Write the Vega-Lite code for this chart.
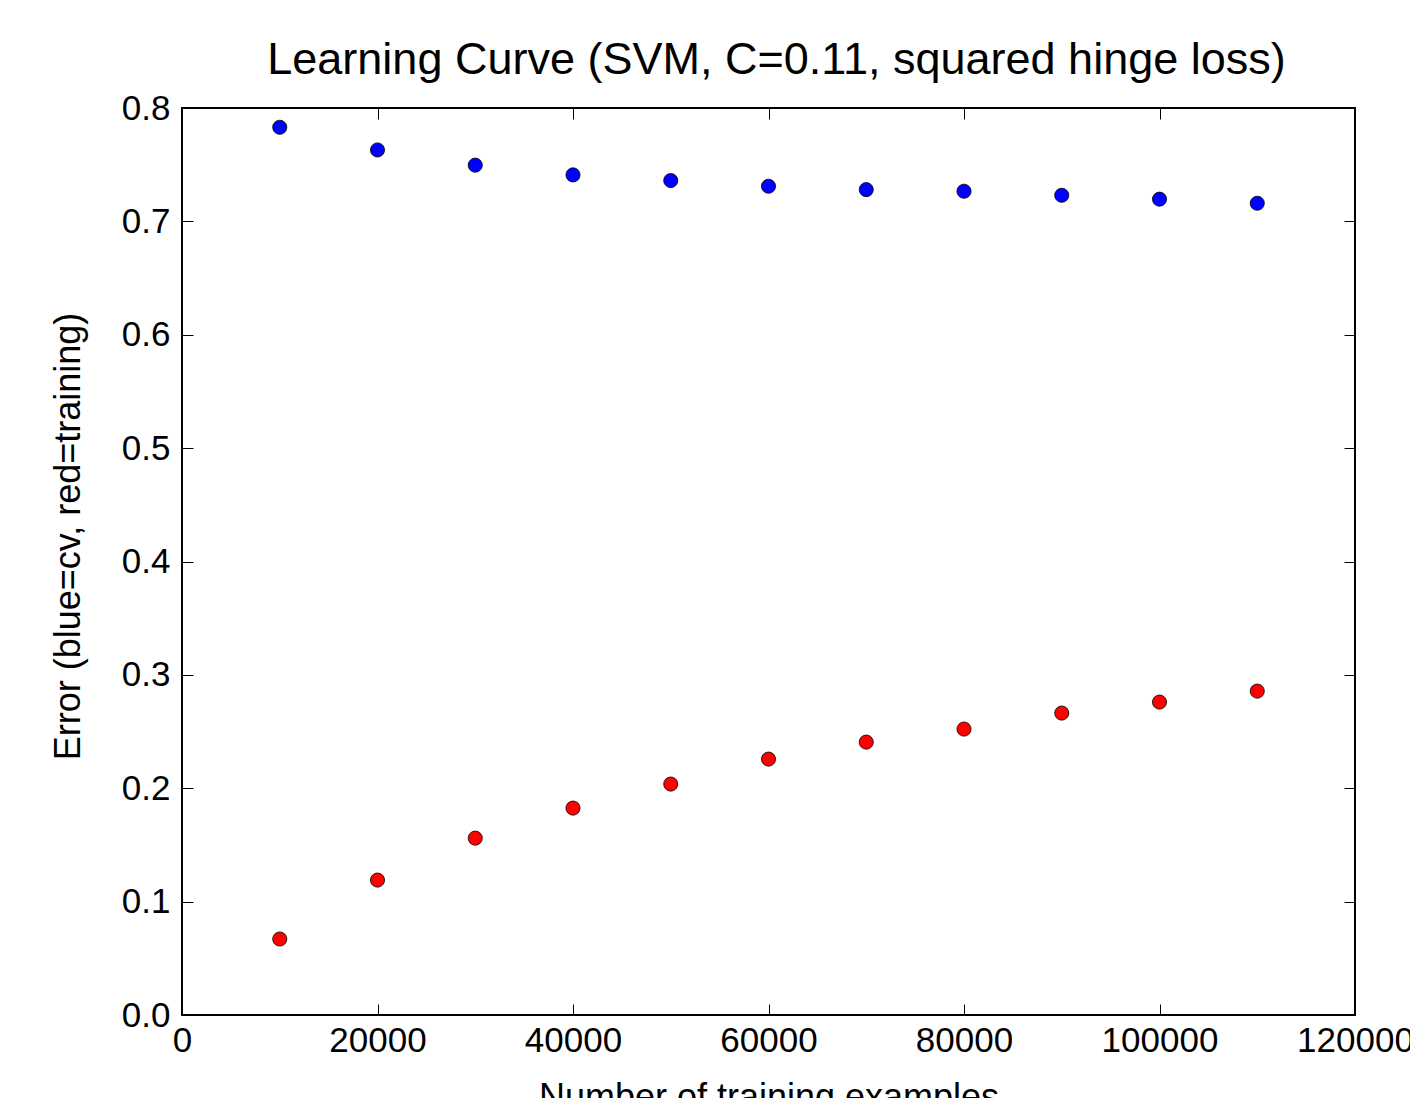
{
  "$schema": "https://vega.github.io/schema/vega-lite/v6.json",
  "width": 1173,
  "height": 907,
  "autosize": {"type": "none"},
  "padding": {"left": 182, "top": 108, "right": 55, "bottom": 83},
  "background": "white",
  "title": {
    "text": "Learning Curve (SVM, C=0.11, squared hinge loss)",
    "font": "Liberation Sans",
    "fontSize": 45,
    "fontWeight": "normal",
    "color": "#000000",
    "anchor": "middle",
    "dx": 8,
    "offset": 8
  },
  "config": {
    "view": {"stroke": "#000000", "strokeWidth": 2},
    "axis": {
      "grid": false,
      "domain": false,
      "tickSize": -11,
      "tickColor": "#000000",
      "tickWidth": 1,
      "labelFont": "Liberation Sans",
      "labelFontSize": 35,
      "labelColor": "#000000",
      "titleFont": "Liberation Sans",
      "titleFontSize": 36,
      "titleFontWeight": "normal",
      "titleColor": "#000000"
    }
  },
  "data": {
    "values": [
      {"n": 10000, "error": 0.783, "series": "cv"},
      {"n": 20000, "error": 0.763, "series": "cv"},
      {"n": 30000, "error": 0.7496, "series": "cv"},
      {"n": 40000, "error": 0.741, "series": "cv"},
      {"n": 50000, "error": 0.736, "series": "cv"},
      {"n": 60000, "error": 0.731, "series": "cv"},
      {"n": 70000, "error": 0.728, "series": "cv"},
      {"n": 80000, "error": 0.7266, "series": "cv"},
      {"n": 90000, "error": 0.723, "series": "cv"},
      {"n": 100000, "error": 0.7196, "series": "cv"},
      {"n": 110000, "error": 0.716, "series": "cv"},
      {"n": 10000, "error": 0.067, "series": "training"},
      {"n": 20000, "error": 0.119, "series": "training"},
      {"n": 30000, "error": 0.156, "series": "training"},
      {"n": 40000, "error": 0.1825, "series": "training"},
      {"n": 50000, "error": 0.2037, "series": "training"},
      {"n": 60000, "error": 0.2257, "series": "training"},
      {"n": 70000, "error": 0.2407, "series": "training"},
      {"n": 80000, "error": 0.2522, "series": "training"},
      {"n": 90000, "error": 0.2663, "series": "training"},
      {"n": 100000, "error": 0.276, "series": "training"},
      {"n": 110000, "error": 0.2857, "series": "training"}
    ]
  },
  "layer": [
    {
      "mark": {"type": "point", "filled": true, "shape": "circle", "size": 200, "opacity": 1, "stroke": "#000000", "strokeWidth": 0.8},
      "encoding": {
        "x": {
          "field": "n", "type": "quantitative",
          "scale": {"domain": [0, 120000], "nice": false, "zero": false},
          "axis": {"orient": "bottom", "values": [0, 20000, 40000, 60000, 80000, 100000, 120000], "format": "d", "labelPadding": 19, "title": "Number of training examples", "titlePadding": 22, "labelFlush": false}
        },
        "y": {
          "field": "error", "type": "quantitative",
          "scale": {"domain": [0, 0.8], "nice": false, "zero": false},
          "axis": {"orient": "left", "values": [0, 0.1, 0.2, 0.3, 0.4, 0.5, 0.6, 0.7, 0.8], "format": ".1f", "labelPadding": 23, "title": "Error (blue=cv, red=training)", "titlePadding": 34, "titleY": 428, "labelFlush": false}
        },
        "color": {
          "field": "series", "type": "nominal",
          "scale": {"domain": ["cv", "training"], "range": ["#0000ff", "#ff0000"]},
          "legend": null
        }
      }
    },
    {
      "mark": {"type": "point", "opacity": 0},
      "encoding": {
        "x": {
          "field": "n", "type": "quantitative",
          "axis": {"orient": "top", "values": [0, 20000, 40000, 60000, 80000, 100000, 120000], "labels": false, "title": null}
        },
        "y": {
          "field": "error", "type": "quantitative",
          "axis": {"orient": "right", "values": [0, 0.1, 0.2, 0.3, 0.4, 0.5, 0.6, 0.7, 0.8], "labels": false, "title": null}
        }
      }
    }
  ],
  "resolve": {"axis": {"x": "independent", "y": "independent"}}
}
